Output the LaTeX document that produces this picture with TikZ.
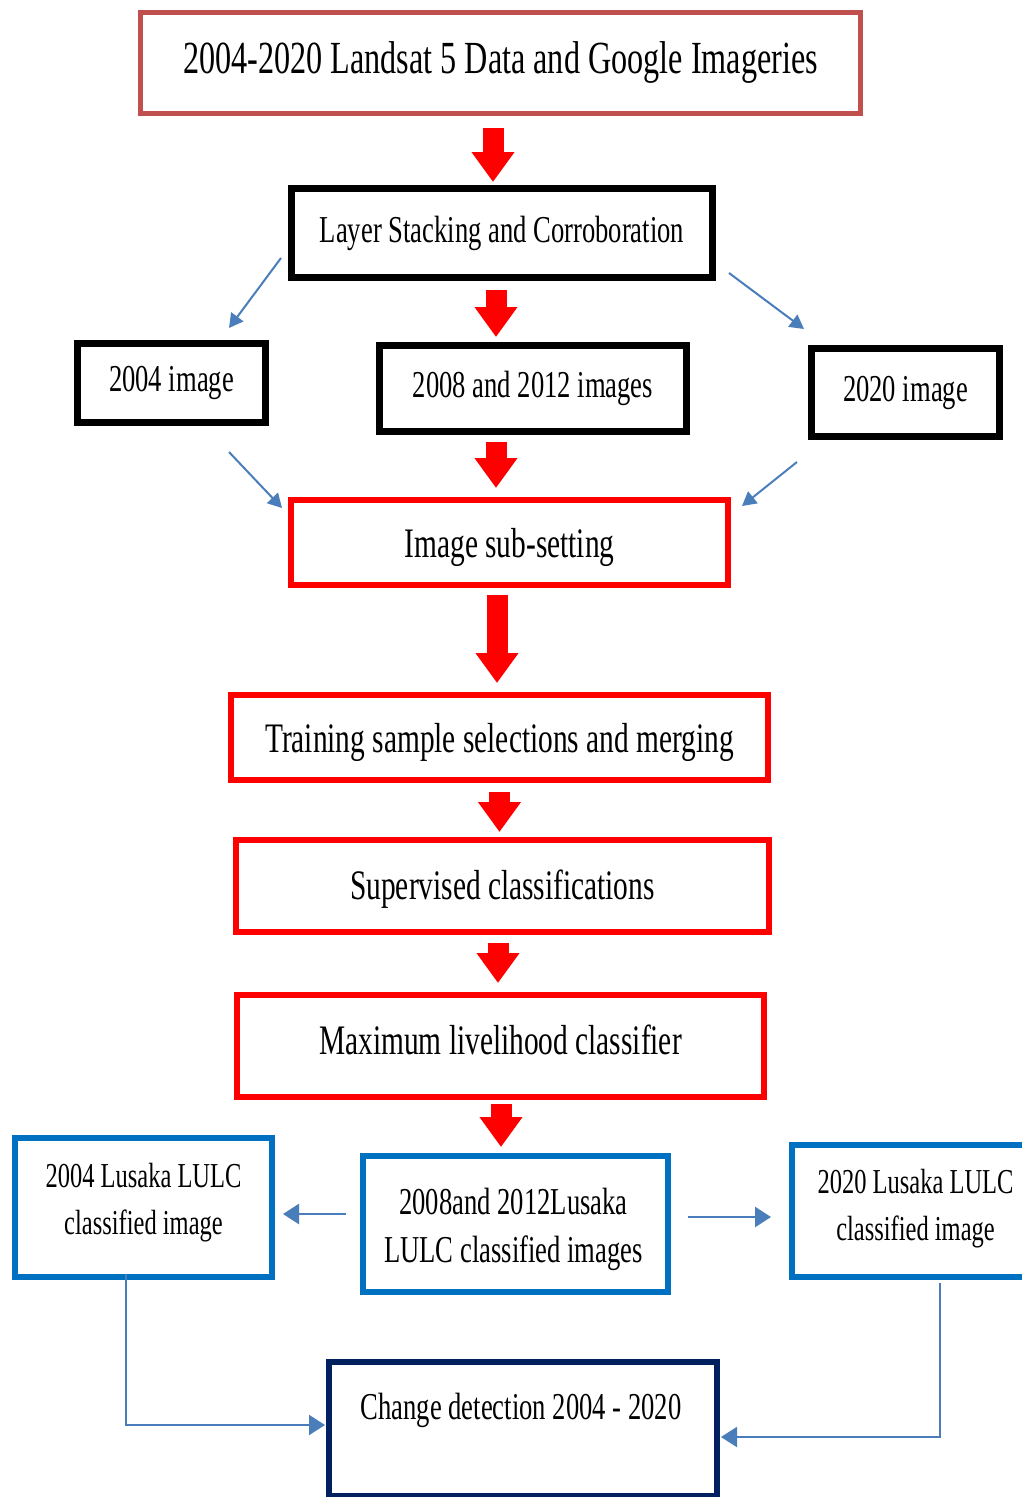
\documentclass[tikz,border=0pt]{standalone}
\usepackage{fontspec}
\setmainfont[FakeStretch=0.7]{Liberation Serif}
\usetikzlibrary{arrows.meta}
\definecolor{topred}{HTML}{C0504D}
\definecolor{boxblue}{HTML}{0070C0}
\definecolor{navy}{HTML}{002060}
\definecolor{arrowblue}{HTML}{4A7EBB}
\tikzset{
  boxbase/.style={draw, rectangle, inner sep=0pt, outer sep=0pt, align=center, fill=white},
  topbox/.style={boxbase, draw=topred, line width=5pt, font=\fontsize{46}{55}\selectfont},
  blackbox/.style={boxbase, draw=black, line width=7pt, font=\fontsize{38}{47}\selectfont},
  redbox/.style={boxbase, draw=red, line width=6pt, font=\fontsize{42}{50}\selectfont},
  bluebox/.style={boxbase, draw=boxblue, line width=5.5pt},
  navybox/.style={boxbase, draw=navy, line width=6pt},
  sidetxt/.style={align=center, inner sep=0pt, font=\fontsize{35}{47}\selectfont},
  midtxt/.style={align=center, inner sep=0pt, font=\fontsize{38}{48}\selectfont},
  redarr/.style={draw=red, line width=21pt, -{Triangle[width=41pt,length=30pt]}},
  bluearr/.style={draw=arrowblue, line width=2.5pt, -{Triangle[width=20pt,length=16pt]}},
  bluediag/.style={draw=arrowblue, line width=2pt, -{Triangle[width=15pt,length=14pt]}}
}
\begin{document}
\begin{tikzpicture}[x=1pt,y=-1pt]
\clip (0,0) rectangle (1022,1497);
\fill[white] (0,0) rectangle (1022,1497);

% boxes
\node[topbox, minimum width=720pt, minimum height=101pt] (top) at (500.5,63)
  {2004-2020 Landsat 5 Data and Google Imageries};
\node[blackbox, minimum width=421pt, minimum height=89pt] (lsc) at (502,233)
  {Layer Stacking and Corroboration};
\node[blackbox, minimum width=188pt, minimum height=79pt] (i04) at (171.5,383)
  {2004 image};
\node[blackbox, minimum width=307pt, minimum height=86pt] (i0812) at (533,388.5)
  {2008 and 2012 images};
\node[blackbox, minimum width=188pt, minimum height=88pt] (i20) at (905.5,392.5)
  {2020 image};
\node[redbox, text depth=0pt, minimum width=437pt, minimum height=85pt] (sub) at (509.5,542.5)
  {Image sub-setting};
\node[redbox, text depth=0pt, minimum width=537pt, minimum height=85pt] (train) at (499.5,737.5)
  {Training sample selections and merging};
\node[redbox, text depth=2pt, minimum width=533pt, minimum height=92pt] (sup) at (502.5,886)
  {Supervised classifications};
\node[redbox, text depth=12pt, minimum width=527pt, minimum height=102pt] (max) at (500.5,1046)
  {Maximum livelihood classifier};
\node[bluebox, minimum width=257pt, minimum height=139pt] (l04) at (143.5,1207.5) {};
\node[sidetxt] (l04t) at ([yshift=5pt]l04.center) {2004 Lusaka LULC\\classified image};
\node[bluebox, minimum width=305pt, minimum height=136pt] (l0812) at (515.5,1224) {};
\node[midtxt] (l0812t) at ([yshift=-5pt,xshift=-2pt]l0812.center) {2008and 2012Lusaka\\LULC classified images};
\node[bluebox, minimum width=245pt, minimum height=132pt] (l20) at (914.5,1211) {};
\node[sidetxt] (l20t) at ([yshift=2pt,xshift=1pt]l20.center) {2020 Lusaka LULC\\classified image};
\node[navybox, minimum width=388pt, minimum height=134pt] (cd) at (523,1429) {};
\node[midtxt] (cdt) at ([yshift=19pt,xshift=-2pt]cd.center) {Change detection 2004 - 2020};

% red block arrows
\draw[redarr, shorten <=14.5pt, shorten >=6.5pt] ([xshift=-7.5pt]top.south) -- ([xshift=-7.5pt]top.south |- lsc.north);
\draw[redarr, shorten <=12.5pt, shorten >=8.5pt] ([xshift=-6pt]lsc.south) -- ([xshift=-6pt]lsc.south |- i0812.north);
\draw[redarr, shorten <=10pt, shorten >=12pt] ([xshift=-37pt]i0812.south) -- ([xshift=-37pt]i0812.south |- sub.north);
\draw[redarr, shorten <=10pt, shorten >=12pt] ([xshift=-12.5pt]sub.south) -- ([xshift=-12.5pt]sub.south |- train.north);
\draw[redarr, shorten <=12pt, shorten >=8pt] (train.south) -- (train.south |- sup.north);
\draw[redarr, shorten <=11pt, shorten >=12pt] ([xshift=-4.5pt]sup.south) -- ([xshift=-4.5pt]sup.south |- max.north);
\draw[redarr, shorten <=7pt, shorten >=9pt] ([xshift=0.5pt]max.south) -- ([xshift=0.5pt]max.south |- l0812.north);

% thin blue arrows
\coordinate (d1s) at (281,258);  \coordinate (d1e) at (229,328);
\coordinate (d2s) at (729,273);  \coordinate (d2e) at (804,329);
\coordinate (d3s) at (229,452);  \coordinate (d3e) at (282,508);
\coordinate (d4s) at (797,462);  \coordinate (d4e) at (742,506);
\draw[bluediag] (d1s) -- (d1e);
\draw[bluediag] (d2s) -- (d2e);
\draw[bluediag] (d3s) -- (d3e);
\draw[bluediag] (d4s) -- (d4e);

\coordinate (h1s) at (346,1214); \coordinate (h1e) at (283,1214);
\coordinate (h2s) at (688,1217); \coordinate (h2e) at (771,1217);
\draw[bluearr] (h1s) -- (h1e);
\draw[bluearr] (h2s) -- (h2e);

\coordinate (e1s) at (126,1274); \coordinate (e1e) at (325,1425);
\coordinate (e2s) at (940,1283); \coordinate (e2e) at (721,1437);
\draw[bluearr, line width=2pt] (e1s) |- (e1e);
\draw[bluearr, line width=2pt] (e2s) |- (e2e);
\end{tikzpicture}
\end{document}
